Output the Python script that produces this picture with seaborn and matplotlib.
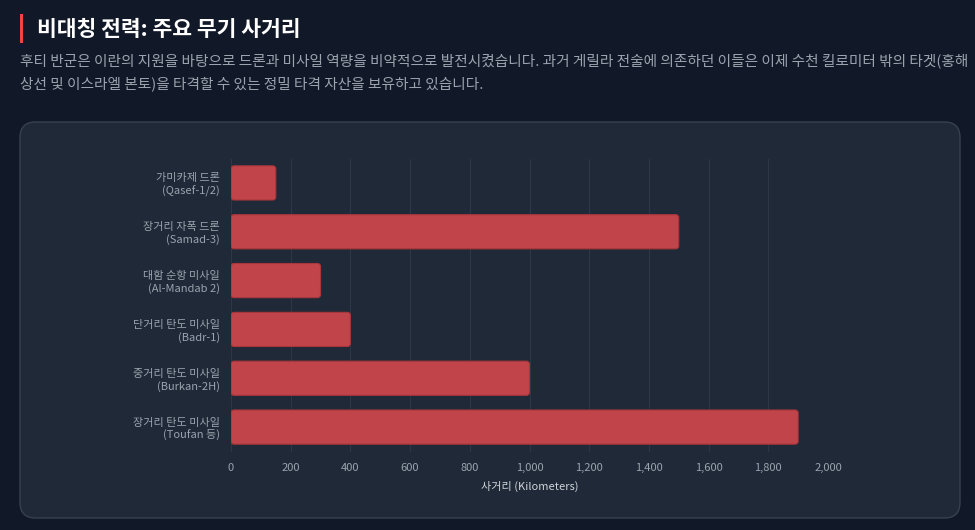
import seaborn as sns
import matplotlib.pyplot as plt
from matplotlib.patches import FancyBboxPatch, Rectangle
from matplotlib.ticker import FuncFormatter
import pandas as pd

weapons = [
    "가미카제 드론\n(Qasef-1/2)",
    "장거리 자폭 드론\n(Samad-3)",
    "대함 순항 미사일\n(Al-Mandab 2)",
    "단거리 탄도 미사일\n(Badr-1)",
    "중거리 탄도 미사일\n(Burkan-2H)",
    "장거리 탄도 미사일\n(Toufan 등)",
]
ranges_km = [150, 1500, 300, 400, 1000, 1900]
x_ticks = [0, 200, 400, 600, 800, 1000, 1200, 1400, 1600, 1800, 2000]

title = "비대칭 전력: 주요 무기 사거리"
subtitle = ("후티 반군은 이란의 지원을 바탕으로 드론과 미사일 역량을 비약적으로 발전시켰습니다. "
            "과거 게릴라 전술에 의존하던 이들은 이제 수천 킬로미터 밖의 타겟(홍해\n"
            "상선 및 이스라엘 본토)을 타격할 수 있는 정밀 타격 자산을 보유하고 있습니다.")

df = pd.DataFrame({"weapon": weapons, "range": ranges_km})

page_bg = "#111827"
card_bg = "#1f2937"
grid_c = "#2d3748"
text_c = "#9ca3af"

sns.set_theme(style="dark")
plt.rcParams["font.family"] = ["Noto Sans CJK KR", "DejaVu Sans"]

W, H = 975, 530
fig = plt.figure(figsize=(W / 100, H / 100), dpi=100)
fig.patch.set_facecolor(page_bg)

# card behind the chart
card = FancyBboxPatch((20 / W, (H - 518) / H), 940 / W, 396 / H,
                      boxstyle="round,pad=0,rounding_size=0.016",
                      transform=fig.transFigure, facecolor=card_bg,
                      edgecolor="#374151", linewidth=1, mutation_aspect=W / H,
                      zorder=-10)
fig.patches.append(card)

# title with red accent bar
fig.patches.append(Rectangle((20 / W, (H - 43) / H), 3 / W, 29 / H,
                             transform=fig.transFigure, facecolor="#ef4444",
                             edgecolor="none"))
fig.text(37 / W, (H - 29) / H, title, color="white", fontsize=15.5,
         fontweight="bold", va="center", ha="left")
fig.text(20 / W, (H - 72) / H, subtitle, color=text_c, fontsize=10.55,
         va="center", ha="left", linespacing=1.65)

ax = fig.add_axes([231 / W, 78.5 / H, 597 / W, 293 / H])
ax.set_facecolor("none")
ax.set_zorder(5)
sns.barplot(data=df, x="range", y="weapon", orient="h", ax=ax,
            color="#c0444a", width=0.7, saturation=1,
            edgecolor="#a8363c", linewidth=1)

ax.set_xlim(0, 2000)

# swap bars for slightly rounded ones
px_x = 2000 / 597
px_y = 6 / 293
for p in list(ax.patches):
    x0, y0 = p.get_x(), p.get_y()
    w, h = p.get_width(), p.get_height()
    rb = FancyBboxPatch((x0, y0), w, h,
                        boxstyle=f"round,pad=0,rounding_size={3 * px_x:.3f}",
                        mutation_aspect=px_y / px_x,
                        facecolor="#c0444a", edgecolor="#a8363c",
                        linewidth=0.8, zorder=p.get_zorder())
    p.remove()
    ax.add_patch(rb)

ax.set_xticks(x_ticks)
ax.xaxis.set_major_formatter(FuncFormatter(lambda v, p: f"{int(v):,}"))
ax.grid(axis="x", color=grid_c, linewidth=0.8)
ax.grid(axis="y", visible=False)
ax.set_axisbelow(True)
for s in ax.spines.values():
    s.set_visible(False)
ax.tick_params(colors=text_c, labelsize=8, length=0, pad=8)
for lab in ax.get_yticklabels():
    lab.set_ha("right")
    lab.set_multialignment("right")
ax.set_ylabel("")
ax.set_xlabel("사거리 (Kilometers)", color="#d1d5db", fontsize=8, labelpad=6)

fig.savefig("out.png", dpi=100, facecolor=page_bg)
